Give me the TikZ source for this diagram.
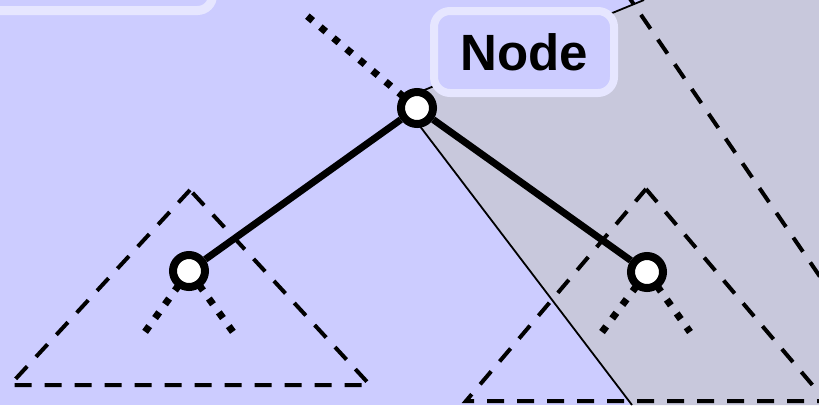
\documentclass[tikz,border=0pt]{standalone}
\usepackage{fontspec}
\setmainfont{Liberation Sans}
\definecolor{bgblue}{RGB}{204,204,255}
\definecolor{rimblue}{RGB}{230,230,255}
\definecolor{greyzone}{RGB}{200,200,220}
\pgfdeclarelayer{back}
\pgfsetlayers{back,main}
\tikzset{
  treenode/.style={circle, draw=black, fill=white, line width=8pt,
    minimum size=32pt, inner sep=0pt},
  branch/.style={line width=7pt},
  stub/.style={line width=7pt, dash pattern=on 7pt off 10pt},
  subtree/.style={line width=4pt, dash pattern=on 17pt off 13pt},
  rim/.style={line width=1.8pt},
  tagbox/.style={draw=rimblue, fill=bgblue, line width=8pt,
    rounded corners=16pt, minimum width=180pt, minimum height=82pt,
    inner sep=0pt, font=\fontsize{51}{51}\selectfont\bfseries},
}
\begin{document}
\begin{tikzpicture}[x=1pt, y=-1pt]
\useasboundingbox (0,0) rectangle (819,405);
\clip (0,0) rectangle (819,405);

% tree nodes and label
\node[treenode] (root)  at (417,108) {};
\node[treenode] (left)  at (189,271) {};
\node[treenode] (right) at (647,272) {};
\node[tagbox]   (tag)   at (524,52) {Node};

% free ends
\coordinate (wedge)    at (400,100);
\coordinate (wedgetop) at (644,0);
\coordinate (wedgebot) at (632,405);
\coordinate (rootstub) at (300,10);
\coordinate (lstubA) at (145,332);
\coordinate (lstubB) at (233,332);
\coordinate (rstubA) at (602,332);
\coordinate (rstubB) at (690,332);
\coordinate (lt) at (190,190);
\coordinate (lbl) at (10,385);
\coordinate (lbr) at (370,385);
\coordinate (rt) at (646,189);
\coordinate (rbl) at (466,401);
\coordinate (rbr) at (826,401);
\coordinate (bigA) at (624,-10);
\coordinate (bigB) at (918,420);

\begin{pgfonlayer}{back}
  \fill[bgblue] (0,0) rectangle (819,405);
  % shaded right-hand region
  \fill[greyzone] (wedge) -- (wedgetop) -- (819,0) -- (819,405) -- (wedgebot) -- cycle;
  \draw[rim] (wedge) -- (wedgetop);
  \draw[rim] (wedge) -- (wedgebot);
  % corner of the upper-left box
  \draw[draw=rimblue, line width=9pt, rounded corners=15pt] (-40,-40) rectangle (212.5,10.5);
  % subtree outlines
  \draw[subtree] (lt) -- (lbl) -- (lbr) -- cycle;
  \draw[subtree] (rt) -- (rbr) -- (rbl) -- cycle;
  \draw[subtree] (bigA) -- (bigB);
  % dotted stubs
  \draw[stub] (root.center) -- (rootstub);
  \draw[stub] (left.center) -- (lstubA);
  \draw[stub] (left.center) -- (lstubB);
  \draw[stub] (right.center) -- (rstubA);
  \draw[stub] (right.center) -- (rstubB);
  % branches
  \draw[branch] (root) -- (left);
  \draw[branch] (root) -- (right);
\end{pgfonlayer}
\end{tikzpicture}
\end{document}
